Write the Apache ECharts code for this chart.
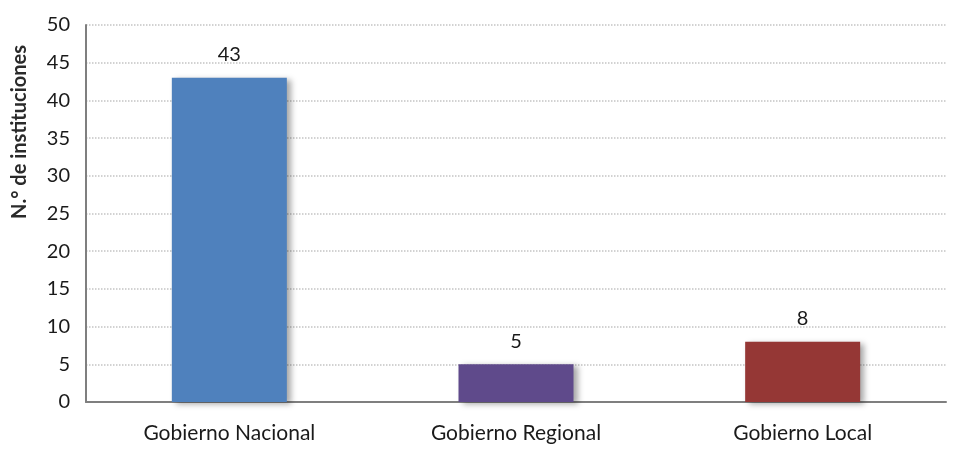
<!DOCTYPE html>
<html><head><meta charset="utf-8">
<script src="https://cdn.jsdelivr.net/npm/echarts@6/dist/echarts.min.js"></script>
<style>html,body{margin:0;padding:0;background:#fff}#c{width:966px;height:454px}</style>
</head><body><div id="c"></div>
<script>
const categories = ["Gobierno Nacional", "Gobierno Regional", "Gobierno Local"];
const values = [43, 5, 8];
const barColors = ["#4f81bd", "#5f4a8b", "#953735"];
const yTicks = [0, 5, 10, 15, 20, 25, 30, 35, 40, 45, 50];
const yTitle = "N.° de instituciones";

const chart = echarts.init(document.getElementById('c'), null, {renderer: 'canvas'});
chart.setOption({
  animation: false,
  backgroundColor: '#fff',
  grid: {left: 86, right: 20, top: 25, bottom: 52, containLabel: false},
  xAxis: {
    type: 'category', data: categories,
    axisLine: {lineStyle: {color: '#7f7f7f', width: 2}},
    axisTick: {show: false},
    axisLabel: {fontFamily: 'Lato', fontSize: 21, color: '#1a1a1a', margin: 21}
  },
  yAxis: {
    type: 'value', min: yTicks[0], max: yTicks[yTicks.length - 1], interval: 5,
    axisLine: {show: true, lineStyle: {color: '#7f7f7f', width: 2}},
    axisTick: {show: false},
    axisLabel: {fontFamily: 'Lato', fontSize: 20, color: '#1a1a1a', margin: 16},
    splitLine: {lineStyle: {color: '#c4c4c4', type: 'dotted', width: 1.5}}
  },
  graphic: [{
    type: 'text', x: 20, y: 132, rotation: Math.PI / 2,
    style: {text: yTitle, fontFamily: 'Lato', fontWeight: 'bold', fontSize: 20, fill: '#2a2a2a',
      textAlign: 'center', textVerticalAlign: 'middle'}
  }],
  series: [{
    type: 'bar', barWidth: 115,
    data: values.map((v, i) => ({value: v, itemStyle: {color: barColors[i]}})),
    itemStyle: {shadowColor: 'rgba(0,0,0,0.35)', shadowBlur: 6, shadowOffsetX: 4, shadowOffsetY: 2},
    label: {show: true, position: 'top', distance: 13, fontFamily: 'Lato', fontSize: 20, color: '#1a1a1a'}
  }]
});
</script></body></html>
